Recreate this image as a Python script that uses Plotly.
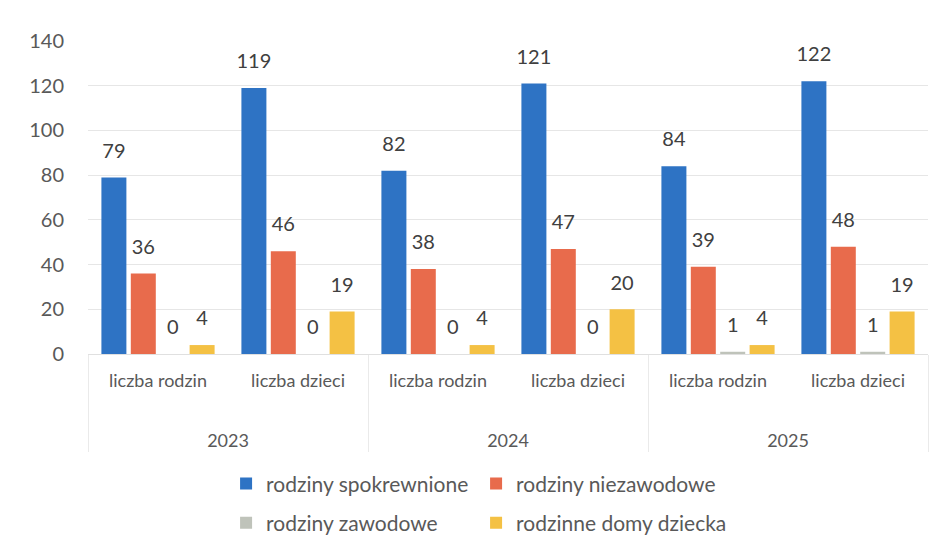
import plotly.graph_objects as go

years = ["<br><br>2023", "<br><br>2023", "<br><br>2024", "<br><br>2024", "<br><br>2025", "<br><br>2025"]
kinds = ["liczba rodzin", "liczba dzieci"] * 3
series_names = ["rodziny spokrewnione", "rodziny niezawodowe", "rodziny zawodowe", "rodzinne domy dziecka"]
spokrewnione = [79, 119, 82, 121, 84, 122]
niezawodowe = [36, 46, 38, 47, 39, 48]
zawodowe = [0, 0, 0, 0, 1, 1]
domy = [4, 19, 4, 20, 4, 19]
colors = ["#2E73C4", "#E86B4C", "#BFC3BA", "#F4C144"]
y_ticks = [0, 20, 40, 60, 80, 100, 120, 140]

FONT = "Lato, Carlito, 'Open Sans', sans-serif"
fig = go.Figure()
all_vals = [spokrewnione, niezawodowe, zawodowe, domy]
for i, (name, vals) in enumerate(zip(series_names, all_vals)):
    fig.add_trace(go.Bar(
        x=[years, kinds], y=vals, name=name,
        marker=dict(color=colors[i], line=dict(width=0)),
        offsetgroup=str(i),
        legend="legend" if i < 2 else "legend2",
        hoverinfo="skip",
    ))
for i, (name, vals) in enumerate(zip(series_names, all_vals)):
    fig.add_trace(go.Scatter(
        x=[years, kinds], y=vals, name=name, mode="markers+text",
        marker=dict(size=22, color="rgba(0,0,0,0)"),
        text=[str(v) for v in vals], textposition="top center",
        textfont=dict(size=20, color="#404040", family=FONT),
        offsetgroup=str(i), showlegend=False, cliponaxis=False,
    ))

leg_common = dict(orientation="h", x=0.462, xanchor="center", yanchor="middle",
                  entrywidth=205, entrywidthmode="pixels", itemwidth=30,
                  font=dict(size=21, color="#595959", family=FONT), traceorder="normal",
                  bgcolor="rgba(0,0,0,0)")
fig.update_layout(
    width=930, height=545,
    margin=dict(l=80, r=10, t=33, b=193),
    paper_bgcolor="white", plot_bgcolor="white",
    barmode="group", bargap=0.16, bargroupgap=0.15,
    scattermode="group", scattergap=0.16,
    font=dict(family=FONT, size=18, color="#595959"),
    showlegend=True,
    legend=dict(y=-0.415, **leg_common),
    legend2=dict(y=-0.54, **leg_common),
)
fig.update_yaxes(range=[0, 140], tickvals=y_ticks, showgrid=True, gridcolor="#E6E6E6",
                 zeroline=False, showline=False, ticks="", ticklabelstandoff=23,
                 automargin=False, tickfont=dict(size=20, color="#595959"))
fig.update_xaxes(showline=True, linecolor="#E0E0E0", ticks="", showdividers=True,
                 dividercolor="#EAEAEA", dividerwidth=1, automargin=False,
                 ticklabelstandoff=10,
                 tickfont=dict(size=18, color="#595959"))

fig.write_html("out.html")
